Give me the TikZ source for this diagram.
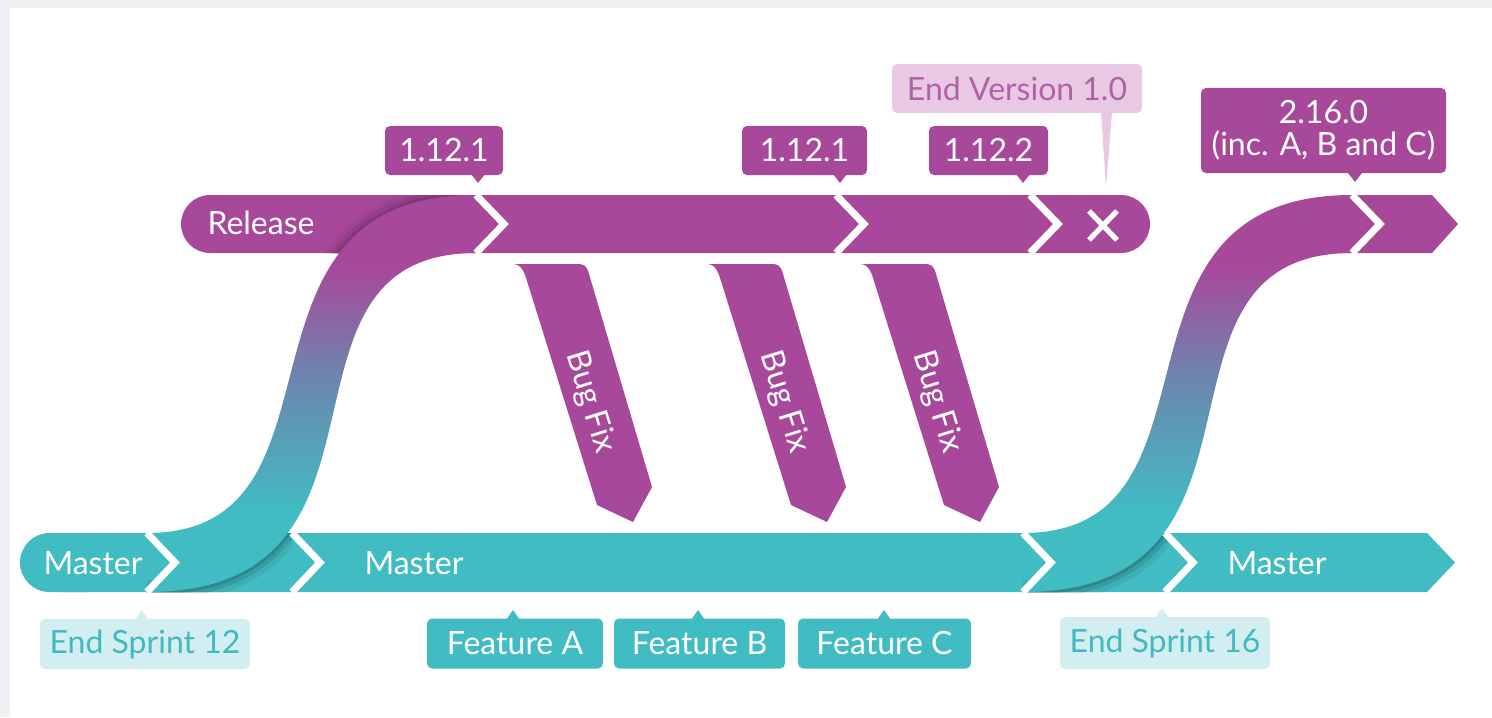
\documentclass[tikz,border=0pt]{standalone}
\usepackage{fontspec}
\setmainfont{Lato}
\definecolor{rpurp}{HTML}{A8489A}
\definecolor{mteal}{HTML}{41BCC2}
\definecolor{mblue}{HTML}{6C86AE}
\definecolor{pinkbox}{HTML}{E9C8E3}
\definecolor{pinktext}{HTML}{B062A8}
\definecolor{tealbox}{HTML}{D3EEF0}
\definecolor{tealtext}{HTML}{42B9BF}
\definecolor{pagegray}{HTML}{EEF0F4}
% teal at the master end, purple at the release end
\pgfdeclareverticalshading{ribbonfade}{100bp}{color(0bp)=(mteal); color(35bp)=(mteal); color(52bp)=(mblue); color(66bp)=(rpurp); color(100bp)=(rpurp)}

\begin{document}
\begin{tikzpicture}[x=0.5pt,y=-0.5pt,
  font=\fontsize{16}{16}\selectfont,
  bartext/.style={text=white, inner sep=0pt},
  tag/.style={rounded corners=2.5pt, inner sep=0pt, minimum height=24.5pt, text=white, fill=rpurp},
  tealtag/.style={tag, fill=mteal},
  chev/.style={white, line width=3.5pt, line join=miter},
  shadowline/.style={black, line cap=round}]

\useasboundingbox (0,0) rectangle (1492,717);
\fill[pagegray] (0,0) rectangle (1492,717);
\fill[white] (10,8) rectangle (1492,717);

% ---- branch bars ----
% release
\fill[rpurp, rounded corners=14.5pt] (181,195) rectangle (1150,253);
\fill[rpurp] (1340,195) -- (1432,195) -- (1458,224) -- (1432,253) -- (1340,253) -- cycle;
% master
\fill[mteal, rounded corners=14.75pt] (20,533) rectangle (120,592);
\fill[mteal] (60,533) -- (1427,533) -- (1455,562.5) -- (1427,592) -- (60,592) -- cycle;

% ---- merge ribbons from master up to release ----
\begin{scope}
  \clip (476,195) rectangle (300,253);
  \draw[shadowline, opacity=0.05, line width=12pt] (147,533) .. controls (362,533) and (212,195) .. (476,195);
  \draw[shadowline, opacity=0.08, line width=7pt] (147,533) .. controls (362,533) and (212,195) .. (476,195);
  \draw[shadowline, opacity=0.10, line width=3pt] (147,533) .. controls (362,533) and (212,195) .. (476,195);
\end{scope}
\foreach \dx in {0,876}{
  \begin{scope}[shift={(\dx,0)}]
    \begin{scope}
      \clip (147,533) rectangle (292,592);
      \draw[shadowline, opacity=0.06, line width=12pt] (476,253) .. controls (253,253) and (422,592) .. (147,592);
      \draw[shadowline, opacity=0.10, line width=7pt] (476,253) .. controls (253,253) and (422,592) .. (147,592);
      \draw[shadowline, opacity=0.14, line width=3pt] (476,253) .. controls (253,253) and (422,592) .. (147,592);
    \end{scope}
    \shade[shading=ribbonfade] (147,533) .. controls (362,533) and (212,195) .. (476,195)
      -- (504,224) -- (476,253) .. controls (253,253) and (422,592) .. (147,592)
      -- (175,562.5) -- cycle;
  \end{scope}
}

% ---- chevron separators ----
\foreach \t in {147,292,1023,1165}
  \draw[chev] (\t,533) -- (\t+28,562.5) -- (\t,592);
\foreach \t in {476,836,1030,1352}
  \draw[chev] (\t,195) -- (\t+28,224) -- (\t,253);

% end of release 1.0
\draw[white, line width=2.6pt] (1089,211) -- (1117,240) (1089,240) -- (1117,211);

% ---- bug fix branches ----
\foreach \dx/\nm in {0/bf1,194/bf2,347/bf3}{
  \begin{scope}[shift={(\dx,0)}]
    \fill[rpurp] (513,264) .. controls (521,264) and (524,271) .. (527,281)
      -- (597,505) -- (633,522) -- (652,487) -- (589,274)
      .. controls (587,266) and (584,264) .. (578,264) -- cycle;
    \node[bartext, rotate=-72.7] (\nm) at (590,402) {Bug Fix};
  \end{scope}
}

% ---- bar labels ----
\node[bartext] (rel) at (261,223) {Release};
\node[bartext] (m1) at (93,563) {Master};
\node[bartext] (m2) at (414,563) {Master};
\node[bartext] (m3) at (1277,563) {Master};

% ---- version tags ----
\node[tag, minimum width=59pt] (v1) at (444,150.5) {1.12.1};
\coordinate (v1tip) at (478,183);
\fill[rpurp] (v1tip) -- ++(-7,-9) -- ++(14,0) -- cycle;

\node[tag, minimum width=62.5pt] (v2) at (804.5,150.5) {1.12.1};
\coordinate (v2tip) at (840,183);
\fill[rpurp] (v2tip) -- ++(-7,-9) -- ++(14,0) -- cycle;

\node[tag, minimum width=59.5pt] (v3) at (988.5,150.5) {1.12.2};
\coordinate (v3tip) at (1023,183);
\fill[rpurp] (v3tip) -- ++(-7,-9) -- ++(14,0) -- cycle;

\node[tag, minimum width=122.5pt, minimum height=42.5pt, align=center,
      font=\fontsize{16}{16}\selectfont] (v4) at (1323.5,130.5) {2.16.0\\(inc. A, B and C)};
\coordinate (v4tip) at (1355,182);
\fill[rpurp] (v4tip) -- ++(-7,-9) -- ++(14,0) -- cycle;

\node[tag, fill=pinkbox, text=pinktext, minimum width=125pt] (endv) at (1017,88.5) {End Version 1.0};
\coordinate (endvtip) at (1106,188);
\fill[pinkbox] (endvtip) -- (1101,112) -- (1112,112) -- cycle;

% ---- sprint and feature tags ----
\node[tag, fill=tealbox, text=tealtext, minimum width=105pt, minimum height=25pt] (s12) at (145,644) {End Sprint 12};
\coordinate (s12tip) at (142,610);
\fill[tealbox] (s12tip) -- ++(-7,10) -- ++(14,0) -- cycle;

\node[tealtag, minimum width=88pt, minimum height=25pt] (fa) at (515,643.5) {Feature A};
\coordinate (fatip) at (513,610);
\fill[mteal] (fatip) -- ++(-7,10) -- ++(14,0) -- cycle;

\node[tealtag, minimum width=85.5pt, minimum height=25pt] (fb) at (699.5,643.5) {Feature B};
\coordinate (fbtip) at (698,610);
\fill[mteal] (fbtip) -- ++(-7,10) -- ++(14,0) -- cycle;

\node[tealtag, minimum width=86.5pt, minimum height=25pt] (fc) at (884.5,643.5) {Feature C};
\coordinate (fctip) at (884,610);
\fill[mteal] (fctip) -- ++(-7,10) -- ++(14,0) -- cycle;

\node[tag, fill=tealbox, text=tealtext, minimum width=105pt, minimum height=26pt] (s16) at (1165,643) {End Sprint 16};
\coordinate (s16tip) at (1162,608);
\fill[tealbox] (s16tip) -- ++(-7,10) -- ++(14,0) -- cycle;

\end{tikzpicture}
\end{document}
